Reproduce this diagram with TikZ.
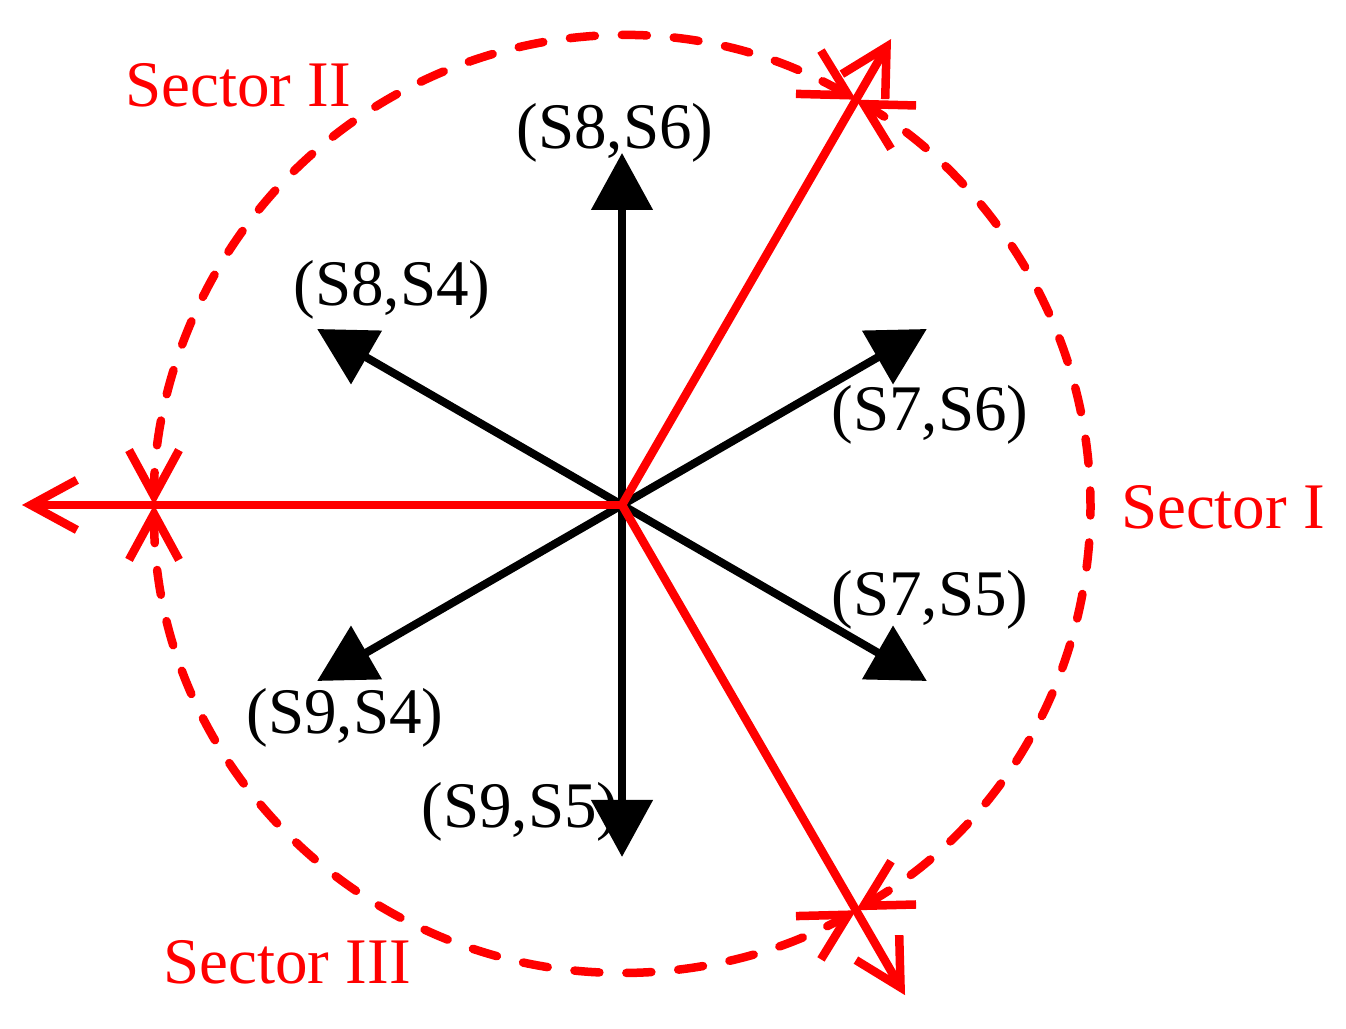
\documentclass[tikz,border=0pt]{standalone}
\usepackage{fontspec}
\setmainfont{Liberation Serif}
\usetikzlibrary{arrows.meta,calc}

\tikzset{
    vec/.style={line width=0.08cm,-{Triangle[length=0.57cm,width=0.6cm]}},
    barb/.tip={Straight Barb[length=0.46cm,width=0.5cm]},
    redvec/.style={red,line width=0.085cm,line cap=round,-barb},
    sectorarc/.style={red,line width=0.085cm,line cap=round,
        dash pattern=on 0.25cm off 0.27cm,barb-barb},
    lbl/.style={font=\fontsize{18.5}{22}\selectfont,inner sep=0pt},
    redlbl/.style={lbl,text=red}
}

\begin{document}
\begin{tikzpicture}
        \useasboundingbox (0,0) rectangle (13.46,10.29);
        \coordinate (O) at (6.22,5.24);
        % dashed sector arcs
        \draw[sectorarc] (O) ++(-60:4.68) arc (-60:60:4.68);
        \draw[sectorarc] (O) ++(60:4.68) arc (60:180:4.68);
        \draw[sectorarc] (O) ++(180:4.68) arc (180:300:4.68);
        % switching vectors
        \foreach \a/\n in {30/a,90/b,150/c,210/d,270/e,330/f}
        {
            \coordinate (v\n) at ($(O)+(\a:3.52)$);
            \draw[vec] (O) -- (v\n);
        }
        % sector borders
        \coordinate (r1) at ($(O)+(60:5.38)$);
        \coordinate (r2) at ($(O)+(180:6.0)$);
        \coordinate (r3) at ($(O)+(-60:5.66)$);
        \draw[redvec] (O) -- (r1);
        \draw[redvec] (O) -- (r2);
        \draw[redvec] (O) -- (r3);
        \node[lbl] (l86) at (6.15,8.96) {(S8,S6)};
        \node[lbl] (l84) at (3.92,7.39) {(S8,S4)};
        \node[lbl] (l76) at (9.30,6.14) {(S7,S6)};
        \node[lbl] (l75) at (9.30,4.29) {(S7,S5)};
        \node[lbl] (l94) at (3.45,3.11) {(S9,S4)};
        \node[lbl] (l95) at (5.20,2.17) {(S9,S5)};
        \node[redlbl] (s1) at (12.23,5.22) {Sector I};
        \node[redlbl] (s2) at (2.38,9.44) {Sector II};
        \node[redlbl] (s3) at (2.87,0.67) {Sector III};
    \end{tikzpicture}
\end{document}
